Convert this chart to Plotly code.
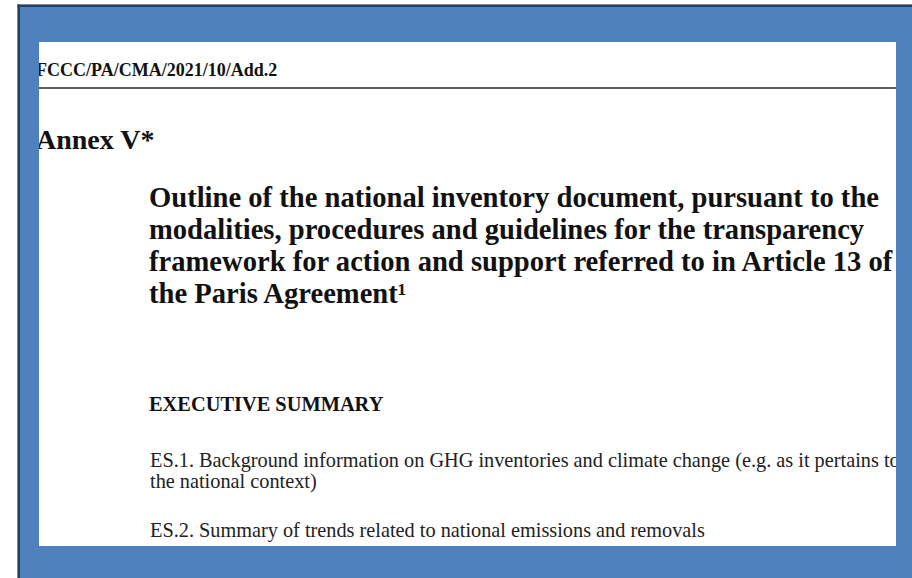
import plotly.graph_objects as go

# ---- content (text of the document page) ----
header_text = "FCCC/PA/CMA/2021/10/Add.2"
annex_text = "Annex V*"
title_lines = [
    "Outline of the national inventory document, pursuant to the",
    "modalities, procedures and guidelines for the transparency",
    "framework for action and support referred to in Article 13 of",
    "the Paris Agreement¹",
]
section_heading = "EXECUTIVE SUMMARY"
body_lines = [
    "ES.1. Background information on GHG inventories and climate change (e.g. as it pertains to",
    "the national context)",
    "ES.2. Summary of trends related to national emissions and removals",
]

# ---- layout geometry (pixels) ----
W, H = 912, 578
PAGE_L, PAGE_R, PAGE_T, PAGE_B = 39, 896, 42, 546
FONT = "Liberation Serif, Times New Roman, serif"
MID = 0.35  # plotly mid-shift (em) for vertically-centred text
DY = 3      # small correction for plotly's text placement

header_x, header_base, header_fs = 36, 75, 18
annex_x, annex_base, annex_fs = 36, 149, 28
title_x, title_bases, title_fs = 149, [207, 239, 271, 303], 28.6
sec_x, sec_base, sec_fs = 149, 410, 20.4
body_x, body_bases, body_fs = 150, [466, 487, 536], 20.3


def px(x):
    return x / W


def py(y):
    return 1 - y / H


def text_trace(xs, bases, texts, fs, weight, color):
    return go.Scatter(
        x=xs,
        y=[b + DY - MID * fs for b in bases],
        text=texts,
        mode="text",
        textposition="middle right",
        textfont=dict(family=FONT, size=fs, color=color, weight=weight),
        hoverinfo="skip",
        showlegend=False,
        cliponaxis=True,
    )


fig = go.Figure()
fig.add_trace(text_trace([header_x], [header_base], [header_text], header_fs, "bold", "#111111"))
fig.add_trace(text_trace([annex_x], [annex_base], [annex_text], annex_fs, "bold", "#111111"))
fig.add_trace(text_trace([title_x] * len(title_lines), title_bases, title_lines, title_fs, "bold", "#111111"))
fig.add_trace(text_trace([sec_x], [sec_base], [section_heading], sec_fs, "bold", "#111111"))
fig.add_trace(text_trace([body_x] * len(body_lines), body_bases, body_lines, body_fs, "normal", "#222222"))


def rect(x0, y0, x1, y1, color):
    return dict(type="rect", xref="paper", yref="paper", x0=px(x0), x1=px(x1), y0=py(y1), y1=py(y0),
                fillcolor=color, line=dict(width=0), layer="below")


shapes = [
    # blue border area
    rect(20, 7, W, H, "#4f81bd"),
    # faint outer edge (top and left)
    rect(17, 4, W, 4.6, "#a9b4c4"),
    rect(17, 4, 17.6, H, "#a9b4c4"),
    # dark navy frame (top and left)
    rect(17.5, 4.5, W, 7, "#243f60"),
    rect(17.5, 4.5, 20, H, "#243f60"),
    # white page
    rect(PAGE_L, PAGE_T, PAGE_R, PAGE_B, "#ffffff"),
    # header rule
    dict(type="line", xref="paper", yref="paper", x0=px(PAGE_L), x1=px(PAGE_R), y0=py(88), y1=py(88),
         line=dict(color="#5f5f5f", width=2), layer="below"),
]

fig.update_layout(
    width=W,
    height=H,
    margin=dict(l=0, r=0, t=0, b=0),
    paper_bgcolor="#ffffff",
    plot_bgcolor="rgba(0,0,0,0)",
    shapes=shapes,
    showlegend=False,
    hovermode=False,
    xaxis=dict(domain=[px(PAGE_L), px(PAGE_R)], range=[PAGE_L, PAGE_R], visible=False, fixedrange=True),
    yaxis=dict(domain=[py(PAGE_B), py(PAGE_T)], range=[PAGE_B, PAGE_T], visible=False, fixedrange=True),
)

fig.write_html(
    "out.html",
    config={"displayModeBar": False},
    post_script="document.body.style.margin='0';document.body.style.overflow='hidden';",
)
